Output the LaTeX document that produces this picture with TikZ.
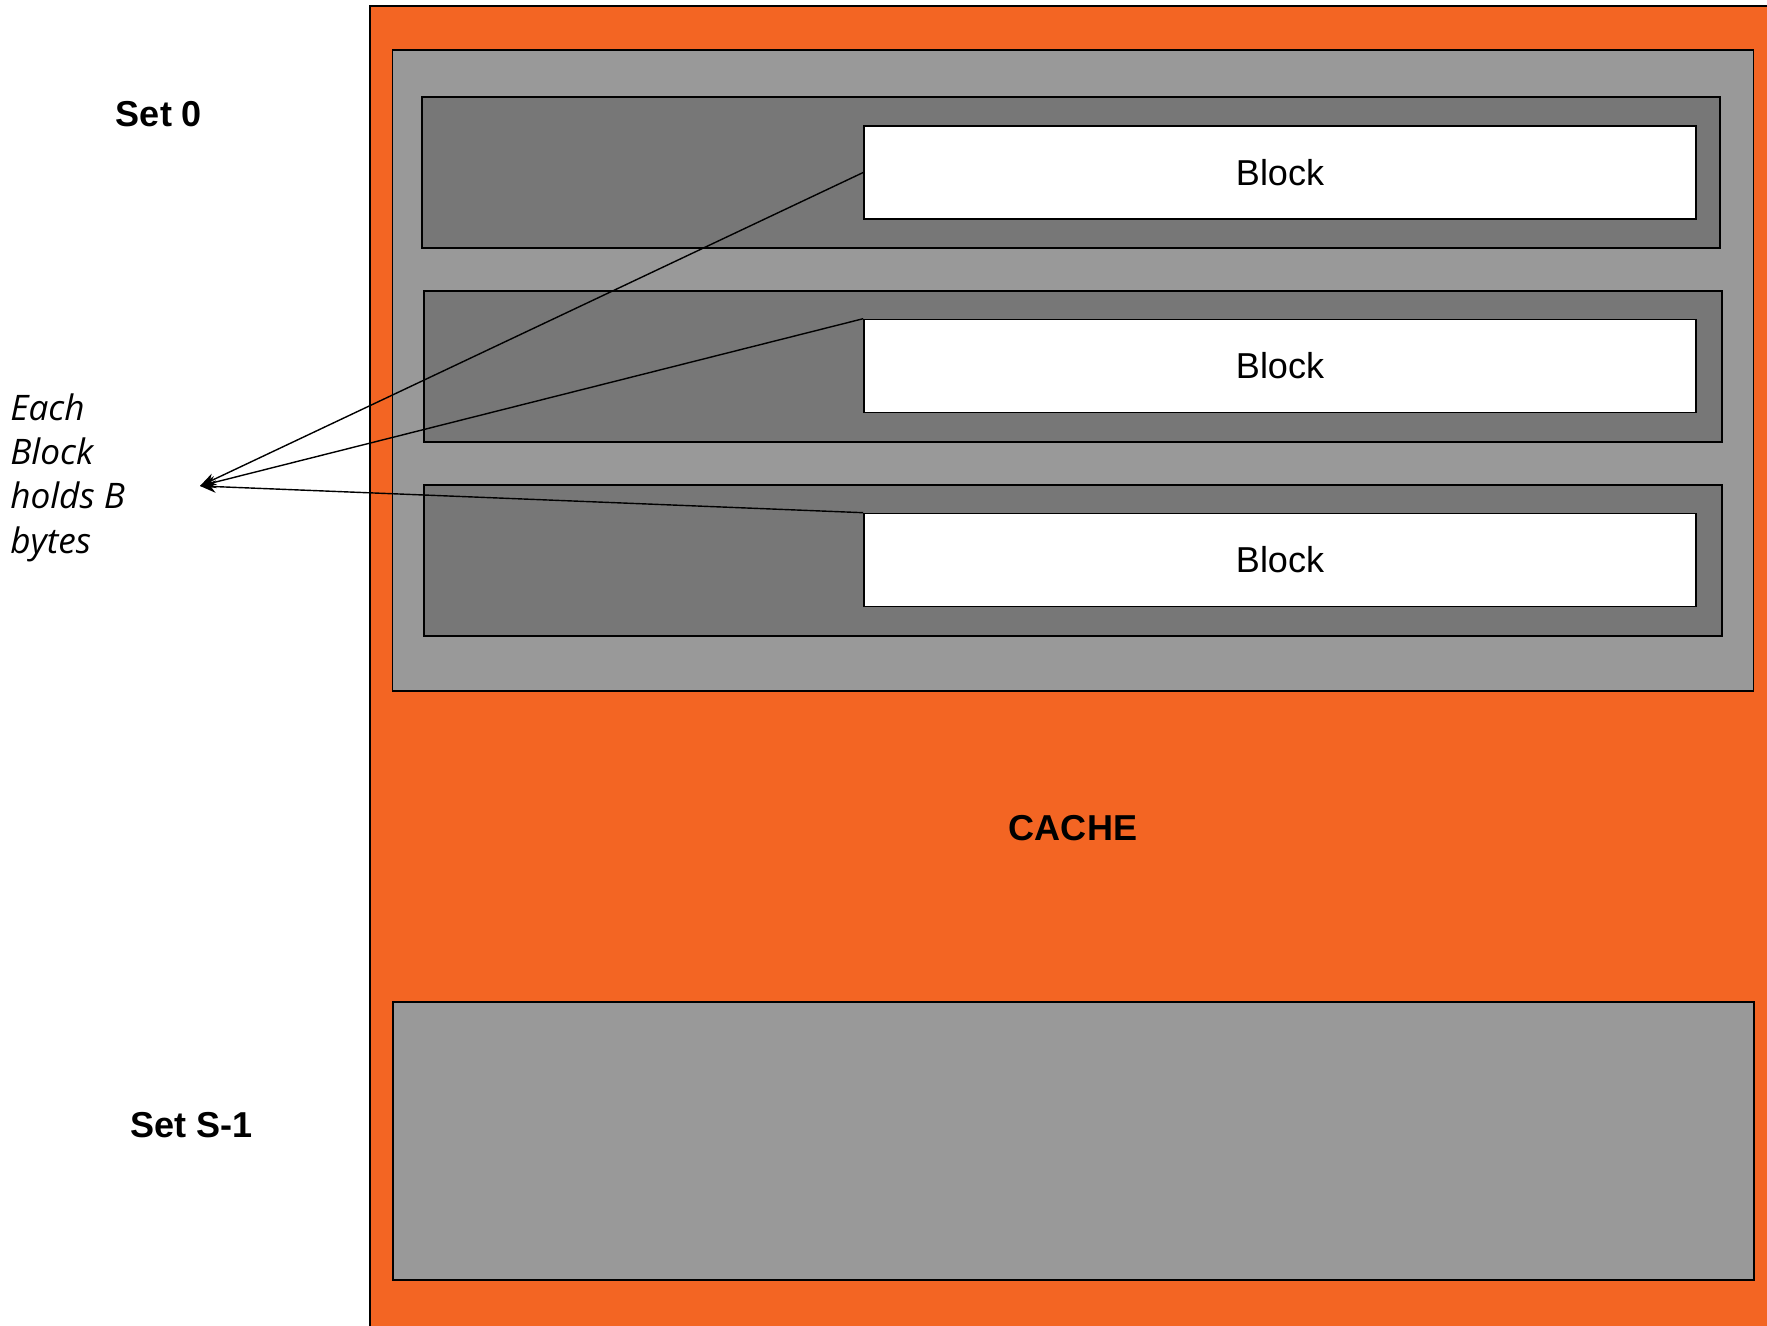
\documentclass[tikz,border=0pt]{standalone}
\usepackage{fontspec}
\setmainfont{Liberation Sans}
\newfontfamily\notefont{Open Sans}
\definecolor{cacheorange}{RGB}{243,101,35}
\definecolor{setgray}{RGB}{153,153,153}
\definecolor{rowgray}{RGB}{119,119,119}
\usetikzlibrary{arrows.meta,positioning}
\tikzset{
  setbox/.style={draw=black, line width=0.9pt, fill=setgray, minimum width=27.22cm},
  rowbox/.style={draw=black, line width=0.9pt, fill=rowgray, minimum width=25.96cm, minimum height=3.02cm},
  blockbox/.style={draw=black, line width=0.9pt, fill=white, minimum width=16.64cm, minimum height=1.86cm, font=\fontsize{20.5}{25}\selectfont},
  setlabel/.style={font=\fontsize{20.5}{25}\selectfont\bfseries},
  pointer/.style={line width=0.8pt, -{Stealth[length=9pt, width=7pt]}}
}

\begin{document}
\begin{tikzpicture}
  \useasboundingbox (0,0) rectangle (35.34,26.5);
  \clip (0,0) rectangle (35.34,26.5);
  \fill[white] (0,0) rectangle (35.34,26.5);
  % cache body, runs off the right and bottom edges
  \draw[line width=0.9pt, fill=cacheorange] (7.4,-1) rectangle (36.5,26.38);
  \node[setlabel] (cache) at (21.46,9.94) {CACHE};

  % set 0 with its three lines
  \node[setbox, minimum height=12.82cm] (set0) at (21.46,19.09) {};
  \node[rowbox] (row1) at (21.42,23.05) {};
  \node[rowbox] (row2) at (21.46,19.17) {};
  \node[rowbox] (row3) at (21.46,15.29) {};
  \node[blockbox] (blk1) at (25.6,23.05) {Block};
  \node[blockbox] (blk2) at (25.6,19.18) {Block};
  \node[blockbox] (blk3) at (25.6,15.30) {Block};

  % last set
  \node[setbox, minimum height=5.56cm] (setlast) at (21.47,3.68) {};

  \node[setlabel] (set0lbl) at (3.18,24.22) {Set 0};
  \node[setlabel] (setlastlbl) at (3.84,4.0) {Set S-1};

  \node[anchor=west, align=left, inner sep=0pt, font=\notefont\itshape\fontsize{20}{25.2}\selectfont] (note) at (0.2,16.95) {Each\\Block\\holds B\\bytes};
  \coordinate (tip) at (4.0,16.78);

  \draw[pointer] (blk1.west) -- (tip);
  \draw[pointer] (blk2.north west) -- (tip);
  \draw[pointer] (blk3.north west) -- (tip);
\end{tikzpicture}
\end{document}
